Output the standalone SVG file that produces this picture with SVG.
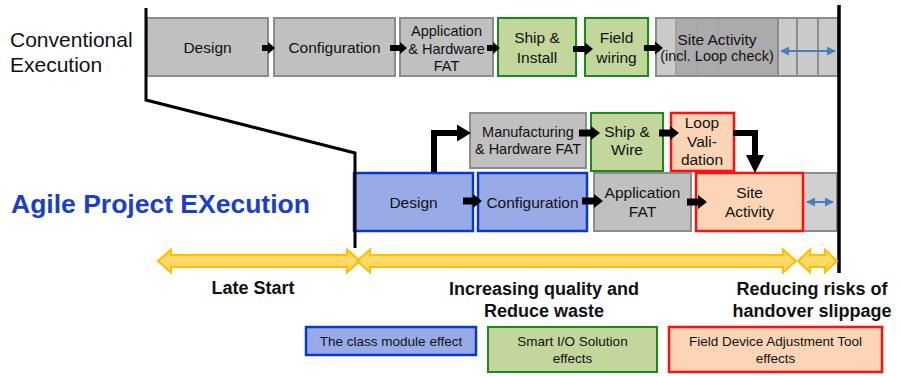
<svg xmlns="http://www.w3.org/2000/svg" width="901" height="376" viewBox="0 0 901 376">
<style>
text{font-family:"Liberation Sans",Arial,sans-serif;fill:#111;text-anchor:middle}
.t{font-size:15.5px}
.s{font-size:14.5px}
.gray{fill:#c0c0c0;stroke:#8c8c8c;stroke-width:2}
.green{fill:#c3d69b;stroke:#1a8a1a;stroke-width:2}
.blue{fill:#98abe6;stroke:#0a38cc;stroke-width:2.5}
.red{fill:#fbd5b5;stroke:#ff1010;stroke-width:2.5}
.arr{fill:#000}
.yel{fill:#ffd966;stroke:#ffbf00;stroke-width:2}
.bl{stroke:#000;fill:none}
.dbl{stroke:#4a7ebb;stroke-width:2;fill:none;marker-start:url(#bh);marker-end:url(#bh)}
.lbl{font-size:18px;font-weight:bold}
.leg{font-size:13.5px}
</style>
<defs>
<marker id="bh" viewBox="0 0 10 10" refX="9" refY="5" markerWidth="4.5" markerHeight="4.5" orient="auto-start-reverse" markerUnits="strokeWidth"><path d="M0,0 L10,5 L0,10 Z" fill="#4a7ebb"/></marker>
</defs>

<text x="10" y="47" style="font-size:21px;text-anchor:start">Conventional</text>
<text x="10" y="72" style="font-size:21px;text-anchor:start">Execution</text>
<text x="11" y="213" style="font-size:26.5px;font-weight:bold;fill:#1a3fcc;text-anchor:start">Agile Project EXecution</text>

<g id="conv-design"><rect class="gray" x="147" y="18" width="121" height="58"/><text class="t" x="207.5" y="53">Design</text></g>
<g id="conv-config"><rect class="gray" x="274" y="18" width="121" height="58"/><text class="t" x="334.5" y="53">Configuration</text></g>
<g id="conv-fat"><rect class="gray" x="400" y="18" width="93" height="58"/><text class="s" x="446.5" y="36">Application</text><text class="s" x="446.5" y="54">&amp; Hardware</text><text class="s" x="446.5" y="71">FAT</text></g>
<g id="conv-ship"><rect class="green" x="498" y="18" width="78" height="58"/><text class="t" x="537" y="43">Ship &amp;</text><text class="t" x="537" y="63">Install</text></g>
<g id="conv-field"><rect class="green" x="585" y="18" width="63" height="58"/><text class="t" x="616.5" y="43">Field</text><text class="t" x="616.5" y="63">wiring</text></g>
<g id="conv-site">
<rect x="656" y="18" width="182" height="58" fill="#cacaca" stroke="#8c8c8c" stroke-width="2"/>
<rect x="676" y="19" width="102" height="56" fill="#ababab"/>
<line x1="697" y1="19" x2="697" y2="75" stroke="#a2a2a2" stroke-width="1"/>
<line x1="718" y1="19" x2="718" y2="75" stroke="#a2a2a2" stroke-width="1"/>
<line x1="676" y1="19" x2="676" y2="75" stroke="#9a9a9a" stroke-width="1.5"/>
<line x1="778" y1="18" x2="778" y2="76" stroke="#8c8c8c" stroke-width="2"/>
<line x1="797" y1="18" x2="797" y2="76" stroke="#8c8c8c" stroke-width="2"/>
<line x1="818" y1="18" x2="818" y2="76" stroke="#8c8c8c" stroke-width="2"/>
<text class="t" x="717" y="45">Site Activity</text>
<text class="s" x="717" y="61">(incl. Loop check)</text>
</g>

<g id="agile-tail"><rect x="696" y="173" width="141" height="58" fill="#d0d0d0" stroke="#8c8c8c" stroke-width="2"/></g>
<g id="agile-mfg"><rect class="gray" x="470" y="113" width="116" height="55"/><text class="s" x="528" y="137">Manufacturing</text><text class="s" x="528" y="154">&amp; Hardware FAT</text></g>
<g id="agile-ship"><rect class="green" x="591" y="113" width="72" height="58"/><text class="t" x="627" y="137">Ship &amp;</text><text class="t" x="627" y="155">Wire</text></g>
<g id="agile-loop"><rect class="red" x="671" y="113" width="63" height="58"/><text class="t" x="702" y="128">Loop</text><text class="t" x="702" y="147">Vali-</text><text class="t" x="702" y="165">dation</text></g>
<g id="agile-design"><rect class="blue" x="354" y="173" width="119" height="58"/><text class="t" x="413.5" y="208">Design</text></g>
<g id="agile-config"><rect class="blue" x="478" y="173" width="109" height="58"/><text class="t" x="532.5" y="208">Configuration</text></g>
<g id="agile-fat"><rect class="gray" x="594" y="173" width="97" height="58"/><text class="t" x="642.5" y="198">Application</text><text class="t" x="642.5" y="217">FAT</text></g>
<g id="agile-site"><rect class="red" x="696" y="173" width="107" height="58"/><text class="t" x="749.5" y="198">Site</text><text class="t" x="749.5" y="217">Activity</text></g>

<g id="connectors">
<path class="arr" d="M262,45 H268 V42 L275,48 L268,54 V51 H262 Z"/>
<path class="arr" d="M390,45 H400 V42 L407,48 L400,54 V51 H390 Z"/>
<path class="arr" d="M487,45 H493 V42 L500,48 L493,54 V51 H487 Z"/>
<path class="arr" d="M573,46 H585 V42.5 L593,49 L585,55.5 V52 H573 Z"/>
<path class="arr" d="M644,45 H655 V41.5 L663,48 L655,54.5 V51 H644 Z"/>
<path class="arr" d="M463,197.5 H473 V194 L482,201 L473,208 V204.5 H463 Z"/>
<path class="arr" d="M582,197.5 H594 V194 L603,201 L594,208 V204.5 H582 Z"/>
<path class="arr" d="M687,198.5 H698 V195 L707,202 L698,209 V205.5 H687 Z"/>
<path class="arr" d="M579,129.5 H591 V126 L600,133 L591,140 V136.5 H579 Z"/>
<path class="arr" d="M659,129.5 H670 V126 L679,133 L670,140 V136.5 H659 Z"/>
<polyline points="434,172 434,133 459,133" stroke="#000" stroke-width="6" fill="none"/>
<path class="arr" d="M457,124.5 L471,133 L457,141.5 Z"/>
<polyline points="733,133 755,133 755,156" stroke="#000" stroke-width="6" fill="none"/>
<path class="arr" d="M746,155 L764,155 L755,173 Z"/>
<line class="dbl" x1="781" y1="51" x2="835" y2="51"/>
<line class="dbl" x1="807" y1="202" x2="833" y2="202"/>
<polyline class="bl" points="146,8 146,100 355,153 355,248" stroke-width="3"/>
<line class="bl" x1="839" y1="5" x2="839" y2="273" stroke-width="3.5"/>
<path class="yel" d="M158,261 L171,249.5 V255 H347 V249.5 L360,261 L347,272.5 V267 H171 V272.5 Z"/>
<path class="yel" d="M357,261 L370,249.5 V255 H783 V249.5 L796,261 L783,272.5 V267 H370 V272.5 Z"/>
<path class="yel" d="M798,261 L810,249.5 V255 H825 V249.5 L837,261 L825,272.5 V267 H810 V272.5 Z"/>
</g>

<text class="lbl" x="253" y="294">Late Start</text>
<text class="lbl" x="544" y="295">Increasing quality and</text>
<text class="lbl" x="544" y="317">Reduce waste</text>
<text class="lbl" x="812" y="295">Reducing risks of</text>
<text class="lbl" x="812" y="317">handover slippage</text>

<g id="legend-blue"><rect class="blue" x="306" y="327" width="170" height="28"/><text class="leg" x="391" y="346">The class module effect</text></g>
<g id="legend-green"><rect class="green" x="488" y="327" width="169" height="45"/><text class="leg" x="572.5" y="346">Smart I/O Solution</text><text class="leg" x="572.5" y="363">effects</text></g>
<g id="legend-red"><rect class="red" x="669" y="327" width="213" height="45"/><text class="leg" x="775.5" y="346">Field Device Adjustment Tool</text><text class="leg" x="775.5" y="363">effects</text></g>
</svg>
